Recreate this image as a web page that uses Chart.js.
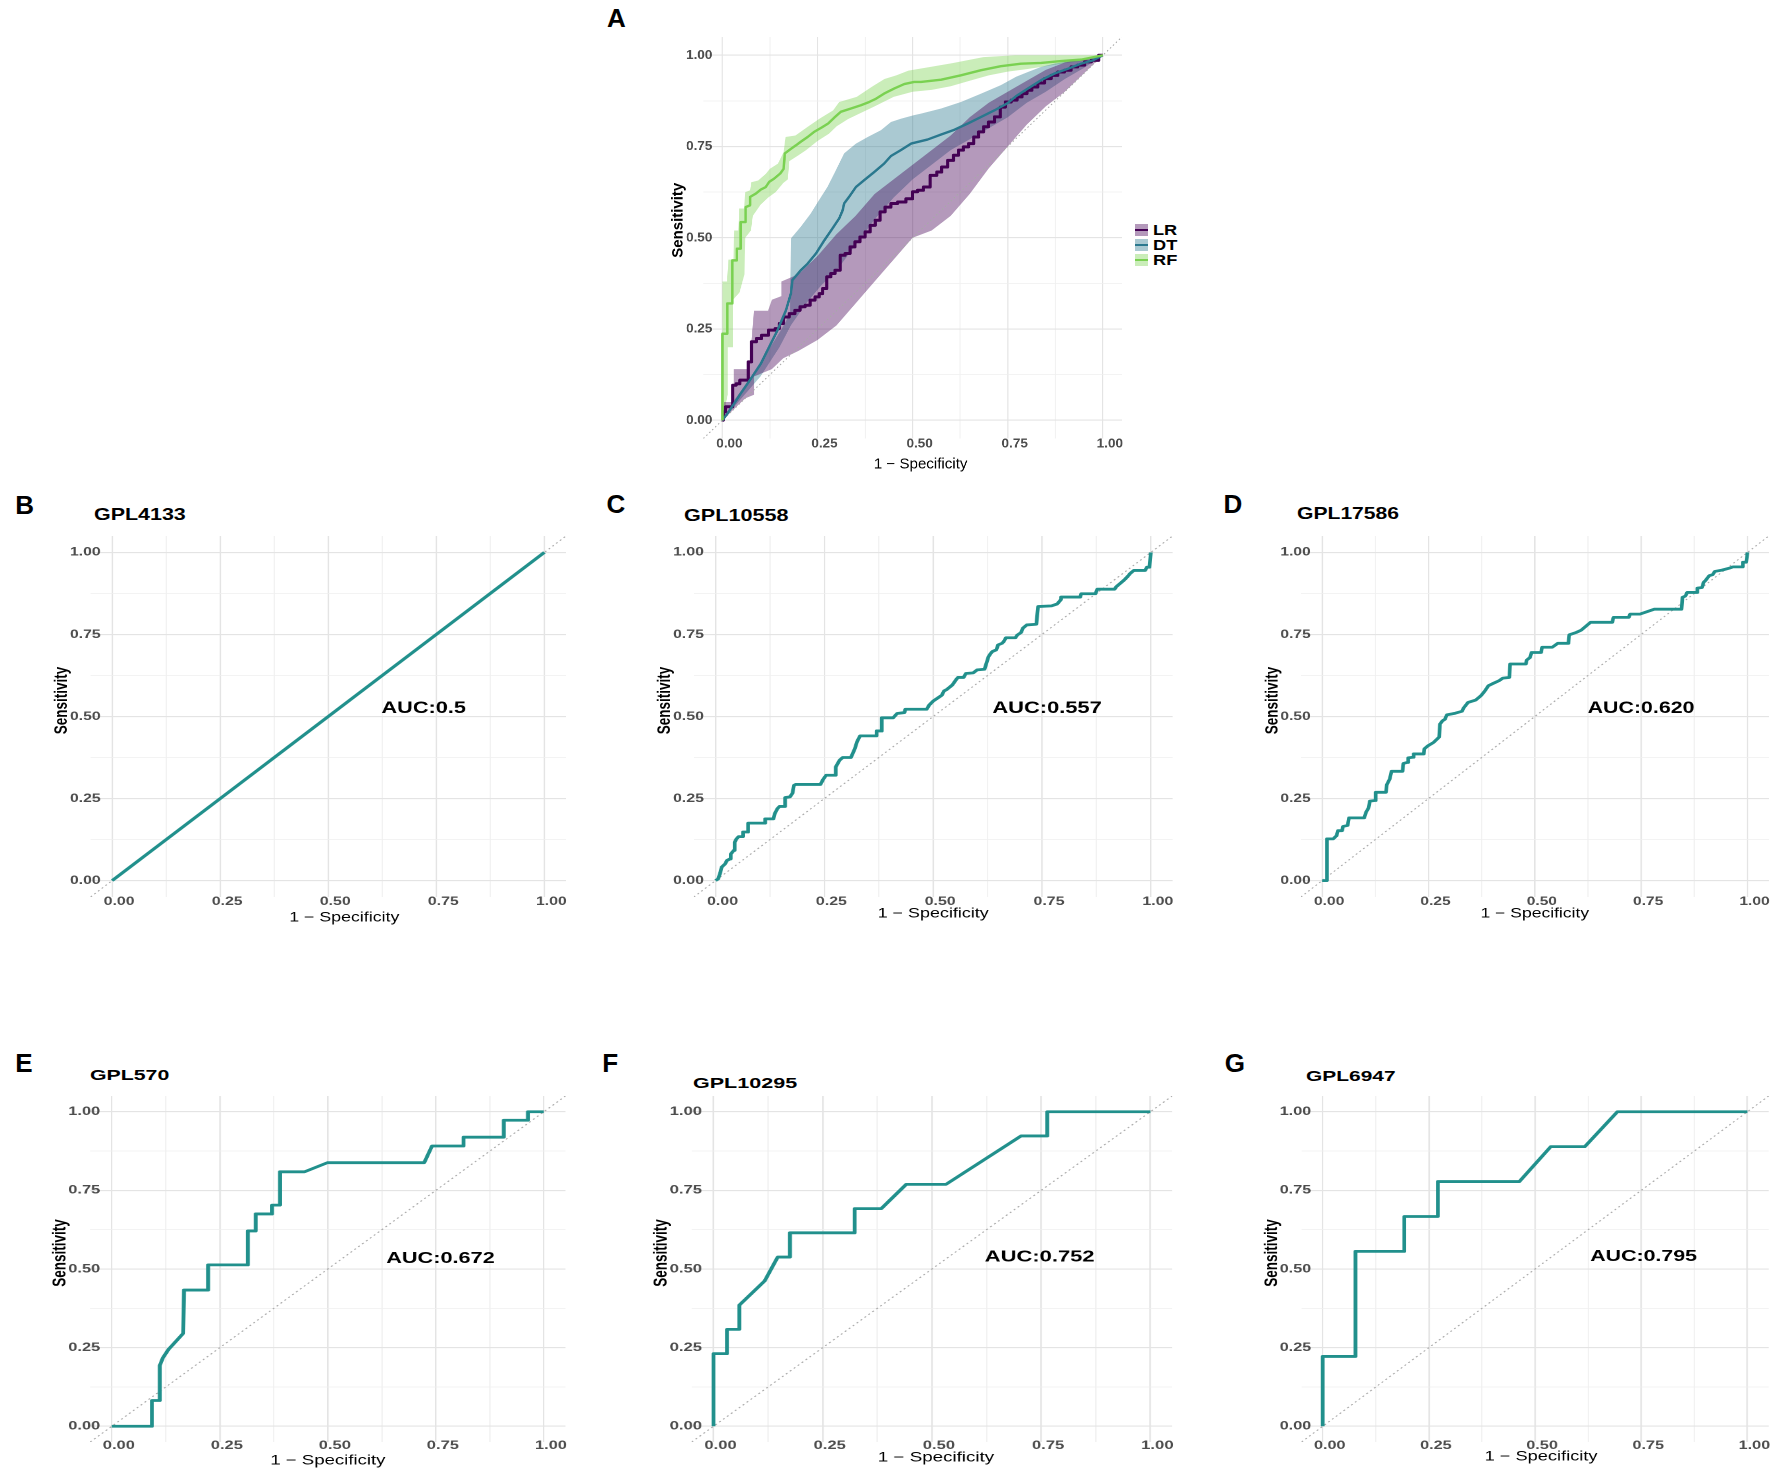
<!DOCTYPE html>
<html>
<head>
<meta charset="utf-8">
<script src="https://cdn.jsdelivr.net/npm/chart.js@4.4.1/dist/chart.umd.min.js"></script>
<style>
  html, body { margin: 0; padding: 0; background: #fff; overflow: hidden; }
  body { width: 1772px; height: 1470px; position: relative; font-family: "Liberation Sans", Arial, Helvetica, sans-serif; }
  .panel { position: absolute; transform-origin: 0 0; }
  .letter { position: absolute; font-weight: bold; font-size: 26px; line-height: 26px; color: #000; }
  .ttl { position: absolute; font-weight: bold; line-height: 1; color: #000; white-space: nowrap; transform-origin: 0 0; }
  .key { position: absolute; width: 13px; height: 12px; }
  .key i { position: absolute; left: 0; right: 0; top: 5px; height: 2px; }
  .keytxt { position: absolute; font-weight: bold; font-size: 14px; line-height: 1; color: #000; transform: scaleX(1.3); transform-origin: 0 0; }
</style>
</head>
<body>
<script>
const FONT = '"Liberation Sans", Arial, Helvetica, sans-serif';
const TEAL = '#21908C';
const PAD_R = 8;

// axis ticks and titles shared by every panel
const tickValues = [0, 0.125, 0.25, 0.375, 0.5, 0.625, 0.75, 0.875, 1];
const tickLabels = ['0.00', '', '0.25', '', '0.50', '', '0.75', '', '1.00'];
const xTitle = '1 − Specificity';
const yTitle = 'Sensitivity';

// panel A: mean ROC curves (1 - specificity, sensitivity)
const modelNames = ['LR', 'DT', 'RF'];
const rocLR = [[0,0],[.004,.023],[.013,.037],[.026,.037],[.028,.096],[.044,.100],[.048,.110],[.066,.110],[.070,.160],[.083,.215],[.096,.224],[.110,.233],[.132,.247],[.145,.251],[.154,.265],[.167,.283],[.184,.292],[.197,.301],[.211,.311],[.224,.315],[.237,.329],[.250,.338],[.259,.347],[.268,.361],[.281,.393],[.289,.402],[.303,.411],[.316,.452],[.329,.457],[.342,.475],[.355,.489],[.368,.502],[.382,.516],[.395,.534],[.408,.548],[.421,.571],[.434,.584],[.452,.594],[.469,.598],[.496,.607],[.504,.626],[.522,.630],[.535,.639],[.557,.671],[.570,.680],[.583,.694],[.601,.712],[.614,.726],[.627,.740],[.640,.749],[.654,.758],[.667,.776],[.680,.790],[.693,.804],[.706,.817],[.724,.831],[.737,.858],[.750,.872],[.768,.877],[.781,.886],[.794,.895],[.807,.904],[.820,.913],[.838,.924],[.855,.936],[.873,.945],[.890,.954],[.908,.959],[.925,.968],[.943,.973],[.961,.982],[.978,.986],[1,1]];
const rocDT = [[0,0],[.013,.018],[.031,.046],[.048,.073],[.075,.114],[.101,.155],[.123,.201],[.145,.247],[.167,.301],[.180,.347],[.184,.384],[.206,.411],[.224,.429],[.246,.457],[.268,.493],[.289,.525],[.307,.553],[.316,.575],[.320,.594],[.333,.612],[.351,.639],[.373,.658],[.399,.680],[.425,.703],[.443,.724],[.469,.740],[.496,.758],[.539,.769],[.575,.783],[.610,.796],[.645,.813],[.680,.831],[.715,.849],[.750,.869],[.772,.888],[.803,.909],[.838,.932],[.873,.950],[.908,.963],[.943,.977],[.974,.986],[1,1]];
const rocRF = [[0,0],[0,.237],[.013,.237],[.013,.320],[.026,.320],[.026,.438],[.038,.438],[.038,.470],[.048,.470],[.048,.543],[.061,.543],[.061,.584],[.073,.589],[.073,.612],[.088,.621],[.101,.632],[.114,.639],[.123,.653],[.136,.662],[.152,.676],[.161,.689],[.164,.731],[.178,.742],[.193,.753],[.206,.763],[.224,.776],[.241,.790],[.261,.802],[.278,.813],[.294,.829],[.311,.845],[.338,.854],[.364,.863],[.386,.872],[.404,.881],[.425,.895],[.452,.909],[.478,.921],[.504,.927],[.522,.927],[.575,.933],[.627,.945],[.680,.959],[.732,.970],[.785,.977],[.838,.979],[.890,.984],[.943,.988],[1,1]];

// panel A: confidence bands, upper and lower edges
const lrUpper = [[0,0],[.005,.05],[.03,.05],[.03,.14],[.07,.14],[.083,.30],[.12,.30],[.13,.33],[.155,.34],[.155,.38],[.2,.40],[.25,.45],[.3,.51],[.35,.56],[.4,.62],[.45,.66],[.5,.70],[.55,.74],[.6,.78],[.65,.83],[.7,.87],[.75,.90],[.8,.93],[.85,.96],[.9,.98],[.95,.99],[1,1]];
const lrLower = [[0,0],[.02,.02],[.04,.04],[.06,.06],[.083,.07],[.083,.12],[.13,.14],[.16,.17],[.2,.19],[.25,.22],[.3,.26],[.35,.32],[.4,.38],[.45,.44],[.5,.50],[.55,.52],[.6,.56],[.65,.62],[.7,.69],[.75,.75],[.8,.81],[.85,.86],[.9,.9],[.95,.95],[1,1]];
const dtUpper = [[0,0],[.031,.055],[.075,.119],[.118,.187],[.154,.247],[.178,.292],[.180,.498],[.206,.530],[.232,.566],[.254,.603],[.276,.639],[.294,.676],[.320,.731],[.351,.758],[.382,.776],[.417,.795],[.443,.817],[.469,.826],[.504,.836],[.522,.840],[.575,.854],[.627,.872],[.680,.895],[.732,.918],[.772,.941],[.803,.954],[.838,.968],[.873,.977],[.925,.986],[1,1]];
const dtLower = [[0,0],[.05,.06],[.1,.12],[.15,.2],[.18,.26],[.22,.32],[.26,.37],[.3,.41],[.35,.48],[.4,.55],[.45,.61],[.5,.66],[.55,.7],[.6,.74],[.65,.77],[.7,.8],[.75,.83],[.8,.87],[.85,.9],[.9,.935],[.95,.965],[1,1]];
const rfUpper = [[0,0],[0,.38],[.012,.38],[.016,.44],[.029,.44],[.031,.52],[.042,.52],[.044,.58],[.057,.58],[.06,.625],[.073,.63],[.076,.652],[.094,.657],[.114,.675],[.125,.689],[.146,.703],[.161,.735],[.166,.776],[.192,.78],[.223,.803],[.255,.826],[.291,.849],[.307,.872],[.353,.886],[.395,.915],[.426,.935],[.457,.945],[.489,.958],[.53,.965],[.603,.978],[.686,.995],[.77,1],[1,1]];
const rfLower = [[0,0],[.014,.07],[.014,.20],[.028,.20],[.028,.33],[.045,.35],[.058,.40],[.06,.50],[.075,.52],[.08,.56],[.1,.59],[.12,.61],[.14,.625],[.16,.65],[.172,.66],[.176,.71],[.2,.726],[.22,.74],[.25,.765],[.28,.785],[.3,.805],[.33,.825],[.36,.84],[.4,.86],[.45,.886],[.5,.9],[.55,.905],[.6,.915],[.65,.93],[.7,.945],[.75,.955],[.8,.962],[.85,.97],[.9,.978],[.95,.985],[1,1]];

// panels B-G: validation ROC curves
const rocGPL4133 = [[0,0],[1,1]];
const rocGPL10558 = [[0,0],[.006,.005],[.011,.025],[.014,.041],[.022,.051],[.026,.061],[.033,.066],[.035,.081],[.042,.092],[.044,.117],[.048,.127],[.053,.134],[.063,.134],[.063,.148],[.075,.148],[.075,.175],[.112,.175],[.114,.188],[.133,.188],[.136,.204],[.142,.219],[.147,.226],[.158,.226],[.160,.253],[.171,.255],[.177,.267],[.180,.290],[.184,.293],[.241,.293],[.247,.308],[.254,.321],[.274,.321],[.276,.346],[.285,.367],[.292,.375],[.311,.375],[.320,.402],[.325,.423],[.332,.441],[.368,.441],[.370,.456],[.380,.456],[.382,.496],[.408,.496],[.417,.509],[.434,.512],[.436,.522],[.485,.522],[.491,.535],[.500,.547],[.509,.555],[.520,.565],[.525,.578],[.531,.582],[.544,.596],[.553,.613],[.557,.619],[.570,.619],[.575,.631],[.592,.633],[.601,.642],[.618,.644],[.627,.682],[.632,.692],[.636,.698],[.645,.703],[.649,.718],[.658,.723],[.662,.728],[.667,.740],[.689,.740],[.693,.748],[.702,.756],[.706,.769],[.715,.779],[.737,.781],[.741,.835],[.772,.837],[.785,.843],[.794,.857],[.794,.864],[.838,.864],[.840,.874],[.873,.874],[.877,.888],[.917,.888],[.921,.896],[.932,.908],[.939,.916],[.947,.927],[.952,.935],[.961,.945],[.987,.945],[.991,.955],[.997,.955],[1,1]];
const rocGPL17586 = [[0,0],[.011,0],[.011,.127],[.026,.127],[.034,.137],[.037,.152],[.047,.152],[.049,.165],[.060,.168],[.063,.191],[.099,.191],[.103,.208],[.109,.221],[.112,.242],[.124,.244],[.126,.269],[.150,.269],[.152,.292],[.159,.310],[.163,.333],[.189,.333],[.191,.357],[.200,.360],[.202,.374],[.213,.376],[.215,.386],[.239,.386],[.240,.401],[.249,.411],[.262,.421],[.275,.437],[.277,.477],[.283,.487],[.289,.492],[.293,.505],[.313,.510],[.329,.516],[.332,.525],[.343,.543],[.361,.550],[.373,.563],[.382,.577],[.391,.594],[.399,.599],[.416,.609],[.425,.617],[.440,.619],[.442,.660],[.479,.660],[.481,.672],[.489,.680],[.492,.695],[.515,.695],[.517,.711],[.541,.711],[.554,.723],[.579,.723],[.581,.749],[.597,.756],[.609,.763],[.631,.787],[.682,.787],[.685,.802],[.721,.802],[.724,.812],[.747,.812],[.781,.827],[.845,.827],[.847,.863],[.854,.867],[.858,.878],[.880,.878],[.882,.891],[.893,.893],[.897,.909],[.901,.914],[.910,.929],[.918,.932],[.923,.942],[.940,.946],[.957,.952],[.966,.956],[.987,.956],[.989,.970],[.997,.970],[1,1]];
const rocGPL570 = [[0,0],[.093,0],[.093,.082],[.111,.082],[.111,.193],[.118,.217],[.131,.244],[.165,.295],[.167,.433],[.223,.433],[.223,.513],[.315,.513],[.315,.621],[.333,.621],[.333,.675],[.371,.675],[.371,.703],[.389,.703],[.389,.809],[.446,.809],[.499,.838],[.723,.838],[.741,.891],[.814,.891],[.814,.919],[.907,.919],[.907,.973],[.963,.973],[.963,1],[1,1]];
const rocGPL10295 = [[0,0],[0,.231],[.031,.231],[.031,.308],[.059,.308],[.059,.385],[.117,.462],[.147,.538],[.175,.538],[.175,.615],[.323,.615],[.323,.692],[.384,.692],[.441,.769],[.532,.769],[.704,.923],[.764,.923],[.764,1],[1,1]];
const rocGPL6947 = [[0,0],[0,.222],[.077,.222],[.077,.556],[.192,.556],[.192,.667],[.271,.667],[.271,.778],[.463,.778],[.537,.889],[.617,.889],[.694,1],[1,1]];

const platformNames = ['GPL4133', 'GPL10558', 'GPL17586', 'GPL570', 'GPL10295', 'GPL6947'];
const aucLabels = ['AUC:0.5', 'AUC:0.557', 'AUC:0.620', 'AUC:0.672', 'AUC:0.752', 'AUC:0.795'];
const diagonal = [[-0.05, -0.05], [1.05, 1.05]];

function pts(a) { return a.map(([x, y]) => ({ x, y })); }
function band(upper, lower) { return pts(upper.concat(lower.slice().reverse())); }

// AUC text placed in data coordinates
const aucPlugin = {
  id: 'aucLabel',
  afterDatasetsDraw(chart, args, opts) {
    if (!opts || !opts.text) return;
    const { ctx, scales } = chart;
    ctx.save();
    ctx.font = 'bold ' + opts.size + 'px ' + FONT;
    ctx.fillStyle = '#000';
    ctx.textAlign = 'left';
    ctx.textBaseline = 'middle';
    ctx.fillText(opts.text, scales.x.getPixelForValue(opts.x), scales.y.getPixelForValue(opts.y));
    ctx.restore();
  }
};

// axis titles: drawn here because the picture has them off-centre
const titlePlugin = {
  id: 'axisTitles',
  afterDraw(chart, args, o) {
    const { ctx, chartArea: a, scales } = chart;
    ctx.save();
    ctx.fillStyle = '#000';
    ctx.textAlign = 'center';
    ctx.textBaseline = 'middle';
    ctx.font = o.xSize + 'px ' + FONT;
    ctx.fillText(xTitle, (a.left + a.right) / 2 + o.xShift, scales.x.bottom - o.xSize * 0.6);
    ctx.translate(scales.y.left + o.ySize * 0.6, (a.top + a.bottom) / 2 + o.yShift);
    ctx.rotate(-Math.PI / 2);
    ctx.font = 'bold ' + o.ySize + 'px ' + FONT;
    ctx.fillText(yTitle, 0, 0);
    ctx.restore();
  }
};

// tick labels sit partly over the panel, so the axis must not clip them
const noClip = () => undefined;

function makeScales(p, s) {
  const isMajor = v => Math.abs(v * 4 - Math.round(v * 4)) < 1e-9;
  const grid = {
    drawTicks: false,
    color: c => (c.tick && isMajor(c.tick.value)) ? '#e4e4e4' : '#efefef',
    lineWidth: c => (c.tick && isMajor(c.tick.value)) ? 1.1 : 0.8
  };
  const setTicks = sc => { sc.ticks = tickValues.map(v => ({ value: v })); };
  const tickFont = { family: FONT, size: p.tickSize, weight: 'bold' };
  return {
    x: {
      type: 'linear', min: -0.05, max: 1.05,
      afterBuildTicks: setTicks,
      afterFit: sc => { sc.height = p.axisH; sc.paddingLeft = 0; sc.paddingRight = 0; sc._computeLabelArea = noClip; },
      grid: grid,
      border: { display: false },
      ticks: { autoSkip: false, maxRotation: 0, minRotation: 0, padding: p.xPad, labelOffset: 7 / s,
               color: '#4d4d4d', font: tickFont, callback: (v, i) => tickLabels[i] }
    },
    y: {
      type: 'linear', min: -0.05, max: 1.05,
      afterBuildTicks: setTicks,
      afterFit: sc => { sc.width = p.axisW; sc.paddingTop = 0; sc.paddingBottom = 0; sc._computeLabelArea = noClip; },
      grid: grid,
      border: { display: false },
      ticks: { autoSkip: false, padding: p.yPad, color: '#4d4d4d', font: tickFont,
               callback: (v, i) => tickLabels[i] }
    }
  };
}

function buildPanel(p, datasets, auc) {
  const U = p.y0 - p.y1;
  const ux = p.x1 - p.x0;
  const s = ux / U;
  const side = 1.1 * U;
  if (p.yPad === undefined) p.yPad = -(0.05 * ux - p.labelGap) / s;

  const wrap = document.createElement('div');
  wrap.className = 'panel';
  wrap.style.left = (p.x0 - 0.05 * ux - p.axisW * s) + 'px';
  wrap.style.top = (p.y1 - 0.05 * U) + 'px';
  wrap.style.transform = 'scaleX(' + s + ')';
  const cv = document.createElement('canvas');
  cv.width = Math.round(p.axisW + side + PAD_R);
  cv.height = Math.round(side + p.axisH);
  wrap.appendChild(cv);
  document.body.appendChild(wrap);

  if (p.title) {
    const t = document.createElement('div');
    t.className = 'ttl';
    t.textContent = p.title;
    t.style.fontSize = p.titleSize + 'px';
    t.style.left = p.titleX + 'px';
    t.style.top = (p.titleY - 0.4885 * p.titleSize) + 'px';
    t.style.transform = 'scaleX(' + s + ')';
    document.body.appendChild(t);
  }

  new Chart(cv, {
    type: 'line',
    data: { datasets: datasets },
    plugins: [aucPlugin, titlePlugin],
    options: {
      responsive: false,
      animation: false,
      events: [],
      devicePixelRatio: 2,
      layout: { autoPadding: false, padding: { left: 0, top: 0, bottom: 0, right: PAD_R } },
      plugins: {
        legend: { display: false },
        tooltip: { enabled: false },
        aucLabel: auc || {},
        axisTitles: { xSize: p.xTitleSize, ySize: p.yTitleSize, xShift: (p.xShift || 0) / s, yShift: p.yShift }
      },
      scales: makeScales(p, s)
    }
  });
}

function diagSet() {
  return { data: pts(diagonal), borderColor: '#a8a8a8', borderWidth: 1, borderDash: [1.5, 2.5],
           pointRadius: 0, fill: false, order: 5 };
}
function lineSet(a, color, width, order) {
  return { data: pts(a), borderColor: color, borderWidth: width, pointRadius: 0, fill: false,
           tension: 0, borderJoinStyle: 'round', order: order };
}
function bandSet(upper, lower, color) {
  return { data: band(upper, lower), borderColor: 'rgba(0,0,0,0)', borderWidth: 0.01, pointRadius: 0,
           backgroundColor: color, fill: 'shape', order: 10 };
}

// panel A
const colLR = '#440154', colDT = '#2A788E', colRF = '#7AD151';
const bandLR = 'rgba(68,1,84,0.4)', bandDT = 'rgba(42,120,142,0.4)', bandRF = 'rgba(122,209,81,0.4)';
buildPanel(
  { x0: 722, x1: 1102, y1: 55, y0: 420, axisW: 33, axisH: 34.5, labelGap: 10, xPad: -2.6,
    tickSize: 13, xTitleSize: 14.5, yTitleSize: 15, xShift: 8, yShift: -17.5 },
  [
    bandSet(lrUpper, lrLower, bandLR),
    bandSet(dtUpper, dtLower, bandDT),
    bandSet(rfUpper, rfLower, bandRF),
    diagSet(),
    Object.assign(lineSet(rocLR, colLR, 3, 3), { stepped: 'middle' }),
    lineSet(rocDT, colDT, 2.4, 2),
    lineSet(rocRF, colRF, 2.4, 1)
  ]
);

// legend of panel A
const legendCols = [[bandLR, colLR], [bandDT, colDT], [bandRF, colRF]];
modelNames.forEach((name, i) => {
  const cy = 230 + i * 15;
  const k = document.createElement('div');
  k.className = 'key';
  k.style.left = '1134.5px';
  k.style.top = (cy - 6) + 'px';
  k.style.background = legendCols[i][0];
  const ln = document.createElement('i');
  ln.style.background = legendCols[i][1];
  k.appendChild(ln);
  document.body.appendChild(k);
  const t = document.createElement('div');
  t.className = 'keytxt';
  t.textContent = name;
  t.style.left = '1153px';
  t.style.top = (cy - 0.4885 * 14) + 'px';
  document.body.appendChild(t);
});

// panels B-G
const rocSets = [rocGPL4133, rocGPL10558, rocGPL17586, rocGPL570, rocGPL10295, rocGPL6947];
const aucX = [0.623, 0.636, 0.624, 0.635, 0.621, 0.630];
const aucY = [0.524, 0.524, 0.525, 0.533, 0.538, 0.540];
const layouts = [
  { x0: 112, x1: 544, y1: 552, y0: 880, axisH: 29, xPad: -2.6, xShift: 16, titleX: 93.8, titleY: 514, titleSize: 16.3, aucSize: 16.5 },
  { x0: 716, x1: 1151, y1: 552, y0: 880, axisH: 25, xPad: -2.6, titleX: 683.5, titleY: 515, titleSize: 16.3, aucSize: 16.5 },
  { x0: 1322.4, x1: 1747.5, y1: 552, y0: 880, axisH: 25, xPad: -2.6, titleX: 1296.8, titleY: 513, titleSize: 16.3, aucSize: 16.5 },
  { x0: 112, x1: 544, y1: 1112, y0: 1426.5, axisH: 27, xPad: -3.6, titleX: 90, titleY: 1075, titleSize: 15.5, aucSize: 15.8 },
  { x0: 713.7, x1: 1150.5, y1: 1112, y0: 1426.5, axisH: 24, xPad: -3.6, xShift: 4, titleX: 693, titleY: 1083, titleSize: 15.5, aucSize: 15.8 },
  { x0: 1322.4, x1: 1747, y1: 1112, y0: 1426.5, axisH: 23, xPad: -3.6, xShift: 6, titleX: 1306, titleY: 1076, titleSize: 15.5, aucSize: 15.8 }
];
layouts.forEach((l, i) => {
  const p = Object.assign({ axisW: 30, labelGap: 11.5, tickSize: 12, xTitleSize: 13.5, yTitleSize: 13.5,
                            yShift: -16, title: platformNames[i] }, l);
  buildPanel(p, [lineSet(rocSets[i], TEAL, 2.8, 1), diagSet()],
             { text: aucLabels[i], x: aucX[i], y: aucY[i], size: p.aucSize });
});

// panel letters
const panelLetters = [['A', 607, 8], ['B', 15.3, 495], ['C', 606.5, 494], ['D', 1223.5, 494],
                      ['E', 15.3, 1053], ['F', 602.3, 1053], ['G', 1224.8, 1053]];
panelLetters.forEach(([ch, x, capTop]) => {
  const d = document.createElement('div');
  d.className = 'letter';
  d.textContent = ch;
  d.style.left = x + 'px';
  d.style.top = (capTop - 0.1305 * 26) + 'px';
  document.body.appendChild(d);
});
</script>
</body>
</html>
